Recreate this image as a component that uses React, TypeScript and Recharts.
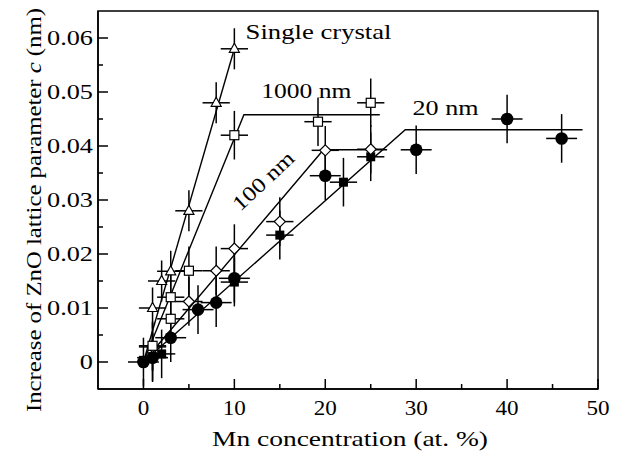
import { ScatterChart, Scatter, XAxis, YAxis, ErrorBar, ReferenceArea, ReferenceDot } from "recharts";

// axis ticks (major + minor)
const xTicks = [0, 5, 10, 15, 20, 25, 30, 35, 40, 45, 50];
const yTicks = [0, 0.005, 0.01, 0.015, 0.02, 0.025, 0.03, 0.035, 0.04, 0.045, 0.05, 0.055, 0.06];

// single crystal (open triangles)
const singleX = [1, 2, 3, 5, 8, 10];
const singleY = [0.01, 0.015, 0.0168, 0.028, 0.048, 0.058];

// 1000 nm (open squares)
const nm1000X = [1, 3, 3, 5, 10, 19.2, 25];
const nm1000Y = [0.003, 0.008, 0.012, 0.0169, 0.042, 0.0445, 0.048];

// 100 nm (open diamonds)
const nm100X = [1, 5, 8, 10, 15, 20, 25];
const nm100Y = [0.0028, 0.0112, 0.0169, 0.021, 0.026, 0.0392, 0.0394];

// 20 nm (filled squares)
const nm20sqX = [1, 2, 10, 15, 22, 25];
const nm20sqY = [0.001, 0.0015, 0.0148, 0.0235, 0.0333, 0.038];

// 20 nm (filled circles)
const nm20cX = [0, 1, 3, 6, 8, 10, 20, 30, 40, 46];
const nm20cY = [0, 0.0008, 0.0045, 0.0097, 0.011, 0.0155, 0.0345, 0.0393, 0.045, 0.0414];

// fitted lines
const fitSingle = [{ x: 0, y: 0 }, { x: 10, y: 0.058 }];
const fit1000 = [{ x: 0, y: 0 }, { x: 11.05, y: 0.0458 }, { x: 26, y: 0.0458 }];
const fit100 = [{ x: 0, y: 0 }, { x: 19.8, y: 0.0393 }, { x: 26.8, y: 0.0393 }];
const fit20 = [{ x: 0, y: 0 }, { x: 28.8, y: 0.043 }, { x: 48.3, y: 0.043 }];

const pts = (xs: number[], ys: number[], ex: number, ey: number) =>
  xs.map((x, i) => ({ x, y: ys[i], ex, ey }));

const FONT = "'Liberation Serif', 'Times New Roman', serif";

const Triangle = ({ cx, cy }: any) => (
  <polygon points={`${cx},${cy - 5.5} ${cx + 5},${cy + 3.5} ${cx - 5},${cy + 3.5}`} fill="#fff" stroke="#000" strokeWidth={1.2} />
);
const OpenSquare = ({ cx, cy }: any) => (
  <rect x={cx - 4.5} y={cy - 4.5} width={9} height={9} fill="#fff" stroke="#000" strokeWidth={1.2} />
);
const Diamond = ({ cx, cy }: any) => (
  <polygon points={`${cx},${cy - 5.5} ${cx + 5.5},${cy} ${cx},${cy + 5.5} ${cx - 5.5},${cy}`} fill="#fff" stroke="#000" strokeWidth={1.2} />
);
const FilledSquare = ({ cx, cy }: any) => <rect x={cx - 4.5} y={cy - 4.5} width={9} height={9} fill="#000" />;
const FilledCircle = ({ cx, cy }: any) => <circle cx={cx} cy={cy} r={6.3} fill="#000" />;
const Nothing = () => <g />;

const XTick = ({ x, y, payload }: any) => {
  const v = payload.value;
  const major = v % 10 === 0;
  return (
    <g>
      <line x1={x} x2={x} y1={y} y2={y - (major ? 10 : 5)} stroke="#000" strokeWidth={1.5} />
      {major && (
        <text transform={`translate(${x},${y + 26}) scale(1.1,1)`} textAnchor="middle" fontSize={21} fontFamily={FONT} fill="#000">
          {v}
        </text>
      )}
    </g>
  );
};

const YTick = ({ x, y, payload }: any) => {
  const v = payload.value;
  const major = Math.abs(v * 100 - Math.round(v * 100)) < 1e-6;
  return (
    <g>
      <line x1={x} x2={x + (major ? 10 : 5)} y1={y} y2={y} stroke="#000" strokeWidth={1.5} />
      {major && (
        <text transform={`translate(${x - 5},${y + 7}) scale(1.25,1)`} textAnchor="end" fontSize={21} fontFamily={FONT} fill="#000">
          {v === 0 ? "0" : v.toFixed(2)}
        </text>
      )}
    </g>
  );
};

const note = (text: string, len: number, angle = 0) => (props: any) => {
  const { x, y } = props.viewBox;
  return (
    <text
      transform={`translate(${x},${y}) rotate(${angle})`}
      fontSize={21}
      fontFamily={FONT}
      fill="#000"
      textLength={len}
      lengthAdjust="spacingAndGlyphs"
    >
      {text}
    </text>
  );
};

export default function App() {
  return (
    <div style={{ position: "absolute", left: 0, top: 0, background: "#fff" }}>
      <ScatterChart width={619} height={454} margin={{ top: 11, right: 21, bottom: 0, left: 0 }}>
        <XAxis
          type="number"
          dataKey="x"
          domain={[-5, 50]}
          ticks={xTicks}
          interval={0}
          allowDataOverflow
          height={65}
          tickSize={0}
          tickMargin={0}
          tickLine={false}
          axisLine={{ stroke: "#000", strokeWidth: 1.5 }}
          tick={<XTick />}
          label={(p: any) => {
            const vb = p.viewBox;
            return (
              <text
                x={vb.x + vb.width / 2 + 2}
                y={vb.y + 57}
                textAnchor="middle"
                fontSize={21}
                fontFamily={FONT}
                fill="#000"
                textLength={276}
                lengthAdjust="spacingAndGlyphs"
              >
                Mn concentration  (at. %)
              </text>
            );
          }}
        />
        <YAxis
          type="number"
          dataKey="y"
          domain={[-0.005, 0.065]}
          ticks={yTicks}
          interval={0}
          allowDataOverflow
          width={98}
          tickSize={0}
          tickMargin={0}
          tickLine={false}
          axisLine={{ stroke: "#000", strokeWidth: 1.5 }}
          tick={<YTick />}
          label={(p: any) => {
            const vb = p.viewBox;
            const cy = vb.y + vb.height / 2 + 10;
            return (
              <text
                transform={`translate(41,${cy}) rotate(-90)`}
                textAnchor="middle"
                fontSize={21}
                fontFamily={FONT}
                fill="#000"
                textLength={404}
                lengthAdjust="spacingAndGlyphs"
              >
                Increase of ZnO lattice parameter <tspan fontStyle="italic">c</tspan>  (nm)
              </text>
            );
          }}
        />
        <ReferenceArea x1={-5} x2={50} y1={-0.005} y2={0.065} fill="none" stroke="#000" strokeWidth={1.5} />

        <Scatter data={fitSingle} line={{ stroke: "#000", strokeWidth: 1.4 }} lineType="joint" shape={<Nothing />} isAnimationActive={false} />
        <Scatter data={fit1000} line={{ stroke: "#000", strokeWidth: 1.4 }} lineType="joint" shape={<Nothing />} isAnimationActive={false} />
        <Scatter data={fit100} line={{ stroke: "#000", strokeWidth: 1.4 }} lineType="joint" shape={<Nothing />} isAnimationActive={false} />
        <Scatter data={fit20} line={{ stroke: "#000", strokeWidth: 1.4 }} lineType="joint" shape={<Nothing />} isAnimationActive={false} />

        <Scatter data={pts(nm20cX, nm20cY, 1.7, 0.0045)} shape={<FilledCircle />} isAnimationActive={false}>
          <ErrorBar dataKey="ey" direction="y" width={0} stroke="#000" strokeWidth={1.5} />
          <ErrorBar dataKey="ex" direction="x" width={0} stroke="#000" strokeWidth={1.5} />
        </Scatter>
        <Scatter data={pts(nm20sqX, nm20sqY, 1.5, 0.0045)} shape={<FilledSquare />} isAnimationActive={false}>
          <ErrorBar dataKey="ey" direction="y" width={0} stroke="#000" strokeWidth={1.5} />
          <ErrorBar dataKey="ex" direction="x" width={0} stroke="#000" strokeWidth={1.5} />
        </Scatter>
        <Scatter data={pts(nm100X, nm100Y, 1.5, 0.0045)} shape={<Diamond />} isAnimationActive={false}>
          <ErrorBar dataKey="ey" direction="y" width={0} stroke="#000" strokeWidth={1.5} />
          <ErrorBar dataKey="ex" direction="x" width={0} stroke="#000" strokeWidth={1.5} />
        </Scatter>
        <Scatter data={pts(nm1000X, nm1000Y, 1.5, 0.0045)} shape={<OpenSquare />} isAnimationActive={false}>
          <ErrorBar dataKey="ey" direction="y" width={0} stroke="#000" strokeWidth={1.5} />
          <ErrorBar dataKey="ex" direction="x" width={0} stroke="#000" strokeWidth={1.5} />
        </Scatter>
        <Scatter data={pts(singleX, singleY, 1.5, 0.0038)} shape={<Triangle />} isAnimationActive={false}>
          <ErrorBar dataKey="ey" direction="y" width={0} stroke="#000" strokeWidth={1.5} />
          <ErrorBar dataKey="ex" direction="x" width={0} stroke="#000" strokeWidth={1.5} />
        </Scatter>

        <ReferenceDot x={11.23} y={0.0599} r={0} fill="none" stroke="none" label={note("Single crystal", 146)} />
        <ReferenceDot x={12.96} y={0.0488} r={0} fill="none" stroke="none" label={note("1000 nm", 90)} />
        <ReferenceDot x={29.6} y={0.0457} r={0} fill="none" stroke="none" label={note("20 nm", 66)} />
        <ReferenceDot x={10.65} y={0.0278} r={0} fill="none" stroke="none" label={note("100 nm", 76, -43)} />
      </ScatterChart>
    </div>
  );
}
